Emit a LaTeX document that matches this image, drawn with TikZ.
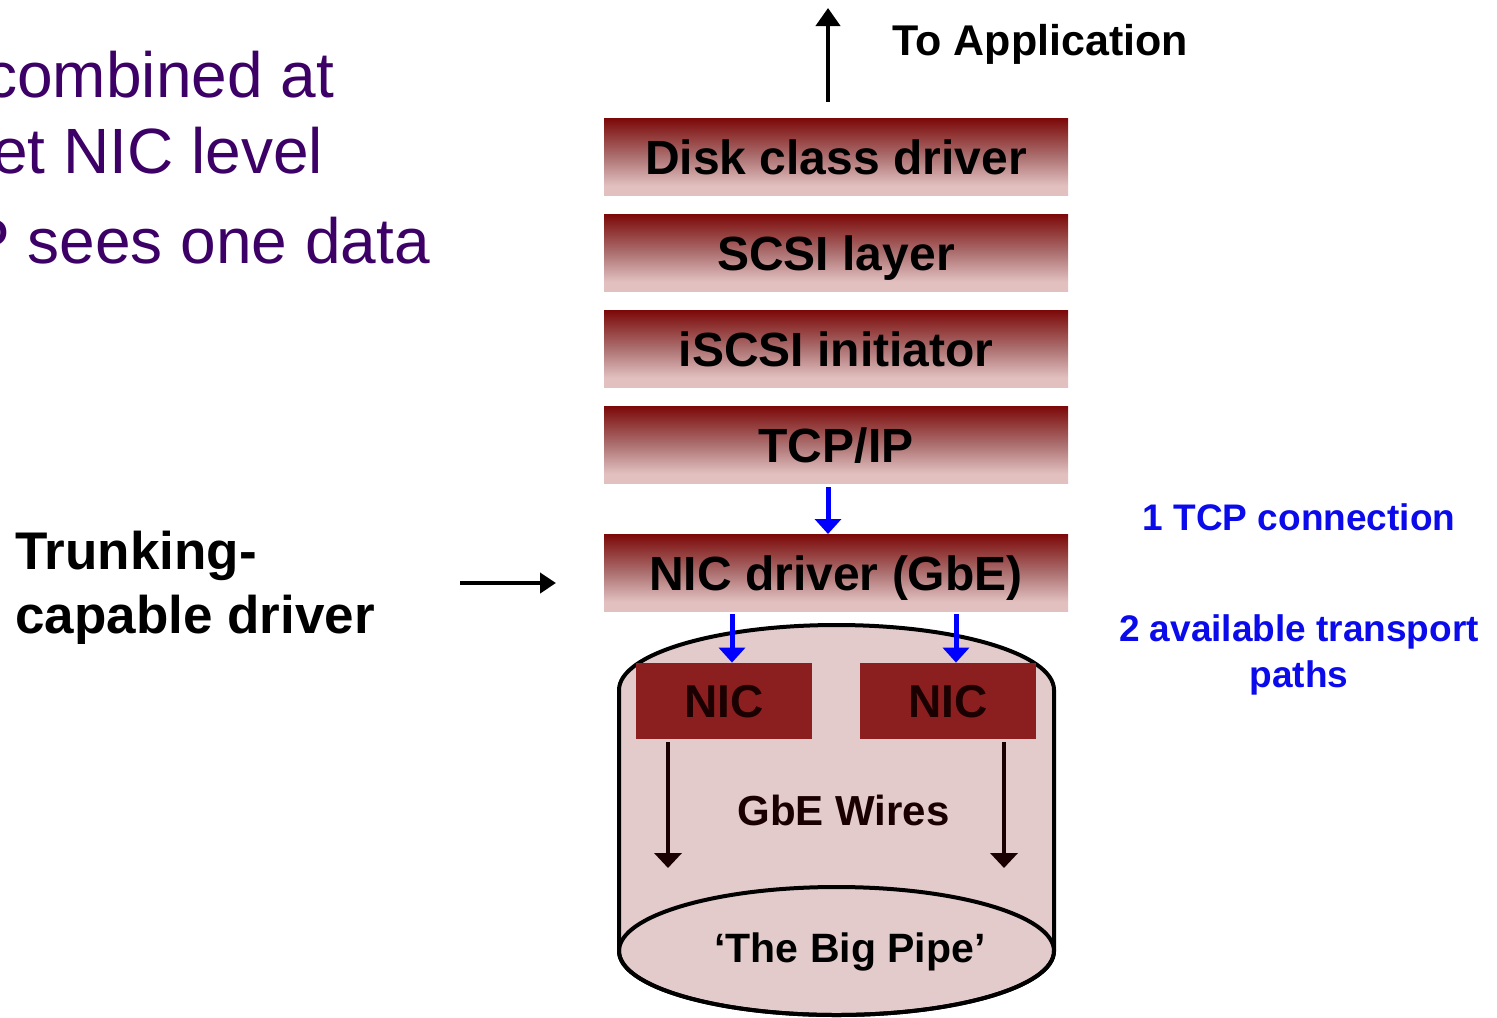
\documentclass[tikz,border=0pt]{standalone}
\usepackage{fontspec}
\setmainfont{Liberation Sans}
\usetikzlibrary{arrows.meta,positioning}
\definecolor{boxtop}{RGB}{124,8,8}
\definecolor{boxmid}{RGB}{172,112,112}
\definecolor{boxbot}{RGB}{226,192,192}
\definecolor{pipefill}{RGB}{228,203,203}
\definecolor{nicred}{RGB}{139,30,30}
\definecolor{nicdark}{RGB}{26,0,0}
\definecolor{textpurple}{RGB}{60,0,102}
\definecolor{textblue}{RGB}{10,10,235}
\pgfdeclareverticalshading{boxshade}{100bp}{color(0bp)=(boxbot); color(31bp)=(boxbot); color(50bp)=(boxmid); color(75bp)=(boxtop); color(100bp)=(boxtop)}

\begin{document}
\begin{tikzpicture}[x=0.5pt,y=-0.5pt,node distance=9.5pt,
 box/.style={shade,shading=boxshade,inner sep=0pt,outer sep=0pt,minimum width=232pt,minimum height=38.5pt,text height=18pt,text depth=0pt,font=\fontsize{24}{28}\selectfont\bfseries},
 nic/.style={fill=nicred,text=nicdark,inner sep=0pt,minimum width=88pt,minimum height=38pt,text height=16.5pt,text depth=0pt,font=\fontsize{23}{28}\selectfont\bfseries},
 bullet/.style={anchor=base west,text=textpurple,inner sep=0pt,font=\fontsize{32}{38}\selectfont},
 note/.style={text=textblue,align=center,inner sep=0pt,font=\fontsize{18.5}{23}\selectfont\bfseries},
 arrow/.style={-{Triangle[width=12pt,length=9pt]},line width=2pt},
 pointer/.style={-{Triangle[width=10pt,length=8pt]},line width=2pt},
 flow/.style={-{Triangle[width=13pt,length=7.5pt]},line width=2.5pt,draw=blue},
 wire/.style={-{Triangle[width=13.5pt,length=7.5pt]},line width=2pt,draw=nicdark}]
\useasboundingbox (0,0) rectangle (1497,1017);
\clip (0,0) rectangle (1497,1017);
% the big pipe
\filldraw[fill=pipefill,line width=2pt] (619,690) arc[start angle=180,end angle=360,x radius=217.5,y radius=65]
 -- (1054,951) arc[start angle=0,end angle=180,x radius=217.5,y radius=64] -- cycle;
\draw[line width=2pt] (836.5,951) ellipse[x radius=217.5,y radius=64];
% stack
\node[box] (disk) at (836,156.5) {Disk class driver};
\node[box,below=of disk] (scsi) {SCSI layer};
\node[box,below=of scsi] (iscsi) {iSCSI initiator};
\node[box,below=of iscsi] (tcp) {TCP/IP};
\node[box,below=25.5pt of tcp] (nicdrv) {NIC driver (GbE)};
\node[nic] (nicl) at (724,701) {NIC};
\node[nic] (nicr) at (948,701) {NIC};
\node[anchor=base,text=nicdark,font=\fontsize{21}{25}\selectfont\bfseries] (wires) at (843.5,825) {GbE Wires};
\node[anchor=base,font=\fontsize{20.5}{25}\selectfont\bfseries] (pipe) at (850,962) {‘The Big Pipe’};
\node[anchor=base west,inner sep=0pt,font=\fontsize{21.5}{25}\selectfont\bfseries] (toapp) at (892,55) {To Application};
\node[anchor=west,align=left,inner sep=0pt,font=\fontsize{26.5}{32}\selectfont\bfseries] (trk) at (15,588) {Trunking-\\capable driver};
\node[note] (tcpnote) at (1299,517) {1 TCP connection};
\node[note] (pathnote) at (1299,655) {2 available transport\\paths};
% text cut off on the left
\node[bullet] (line1) at (-15,97) {combined at};
\node[bullet] (line2) at (-8,173) {et NIC level};
\node[bullet] (line3) at (-33,263) {P sees one data};
% arrows
\coordinate (app) at (828,8);
\coordinate (trkA) at (460,583);
\coordinate (wirel) at (668,868);
\coordinate (wirer) at (1004,868);
\draw[arrow,shorten <=8pt] (disk.north -| app) -- (app);
\draw[flow,shorten <=2pt] (tcp.south -| app) -- (nicdrv.north -| app);
\draw[flow,shorten <=1.5pt] ([xshift=4pt]nicl.north |- nicdrv.south) -- ([xshift=4pt]nicl.north);
\draw[flow,shorten <=1.5pt] ([xshift=4pt]nicr.north |- nicdrv.south) -- ([xshift=4pt]nicr.north);
\draw[wire,shorten <=1.5pt] (nicl.south -| wirel) -- (wirel);
\draw[wire,shorten <=1.5pt] (nicr.south -| wirer) -- (wirer);
\draw[pointer,shorten >=24pt] (trkA) -- (trkA -| nicdrv.west);
\end{tikzpicture}
\end{document}
